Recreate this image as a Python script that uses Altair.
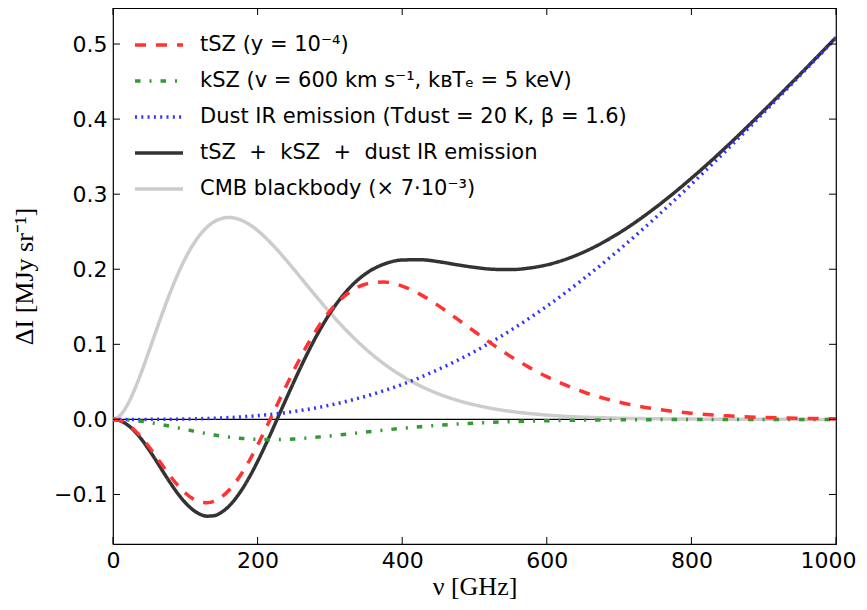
import altair as alt
import pandas as pd

# frequency grid (GHz)
nu = [0, 10, 20, 30, 40, 50, 60, 70, 80, 90, 100, 110, 120, 130, 140, 150, 160,
      170, 180, 190, 200, 210, 220, 230, 240, 250, 260, 270, 280, 290, 300, 325,
      350, 375, 400, 425, 450, 475, 500, 525, 550, 575, 600, 650, 700, 750, 800,
      850, 900, 950, 1000]

tsz = [0.0, -0.0017, -0.0066, -0.0144, -0.0247, -0.0368, -0.0500, -0.0635, -0.0765,
       -0.0883, -0.0981, -0.1055, -0.1099, -0.1111, -0.1091, -0.1035, -0.0948,
       -0.0831, -0.0689, -0.0525, -0.0343, -0.0149, 0.0051, 0.0255, 0.0456, 0.0652,
       0.0838, 0.1012, 0.1173, 0.1316, 0.1443, 0.1680, 0.1803, 0.1829, 0.1776,
       0.1665, 0.1515, 0.1345, 0.1171, 0.0999, 0.0839, 0.0696, 0.0569, 0.0368,
       0.0230, 0.0139, 0.0082, 0.0047, 0.0026, 0.0015, 0.0008]

ksz = [0.0, -0.0002, -0.0007, -0.0015, -0.0026, -0.0040, -0.0056, -0.0074, -0.0093,
       -0.0113, -0.0133, -0.0153, -0.0172, -0.0190, -0.0207, -0.0222, -0.0236,
       -0.0246, -0.0255, -0.0262, -0.0267, -0.0269, -0.0270, -0.0268, -0.0265,
       -0.0261, -0.0255, -0.0247, -0.0239, -0.0230, -0.0221, -0.0195, -0.0168,
       -0.0143, -0.0119, -0.0098, -0.0079, -0.0063, -0.0050, -0.0039, -0.0030,
       -0.0023, -0.0018, -0.0010, -0.0006, -0.0003, -0.0002, -0.0001, 0.0, 0.0, 0.0]

dust = [0.0, 0.0, 0.0, 0.0, 0.0, 0.0, 0.0001, 0.0001, 0.0002, 0.0003, 0.0005, 0.0007,
        0.0009, 0.0012, 0.0015, 0.0019, 0.0024, 0.0029, 0.0035, 0.0042, 0.0050,
        0.0059, 0.0069, 0.0080, 0.0092, 0.0105, 0.0120, 0.0135, 0.0152, 0.0170,
        0.0190, 0.0245, 0.0309, 0.0383, 0.0466, 0.0560, 0.0665, 0.0779, 0.0904,
        0.1040, 0.1186, 0.1342, 0.1507, 0.1866, 0.2259, 0.2683, 0.3132, 0.3600,
        0.4086, 0.4579, 0.5080]

total = [0.0, -0.0019, -0.0073, -0.0159, -0.0273, -0.0408, -0.0555, -0.0708, -0.0856,
         -0.0993, -0.1109, -0.1201, -0.1262, -0.1289, -0.1283, -0.1238, -0.1160,
         -0.1048, -0.0909, -0.0745, -0.0560, -0.0359, -0.0150, 0.0067, 0.0283,
         0.0496, 0.0703, 0.0900, 0.1086, 0.1256, 0.1412, 0.1730, 0.1944, 0.2069,
         0.2123, 0.2127, 0.2101, 0.2061, 0.2025, 0.2000, 0.1995, 0.2015, 0.2058,
         0.2224, 0.2483, 0.2819, 0.3212, 0.3646, 0.4112, 0.4594, 0.5088]

cmb = [0.0, 0.0054, 0.0195, 0.0401, 0.0646, 0.0915, 0.1190, 0.1458, 0.1711, 0.1942,
       0.2144, 0.2316, 0.2455, 0.2560, 0.2634, 0.2675, 0.2690, 0.2677, 0.2643,
       0.2588, 0.2516, 0.2430, 0.2333, 0.2228, 0.2117, 0.2001, 0.1884, 0.1766,
       0.1650, 0.1535, 0.1423, 0.1163, 0.0934, 0.0739, 0.0577, 0.0446, 0.0341,
       0.0258, 0.0194, 0.0144, 0.0107, 0.0079, 0.0057, 0.0030, 0.0016, 0.0008,
       0.0004, 0.0002, 0.0001, 0.0, 0.0]

x_ticks = [0, 200, 400, 600, 800, 1000]
y_ticks = [-0.1, 0.0, 0.1, 0.2, 0.3, 0.4, 0.5]
zero_line = [0.0]

names = [
    "tSZ (y = 10⁻⁴)",
    "kSZ (v = 600 km s⁻¹, kʙTₑ = 5 keV)",
    "Dust IR emission (Tdust = 20 K, β = 1.6)",
    "tSZ\u00a0 +\u00a0 kSZ\u00a0 +\u00a0 dust IR emission",
    "CMB blackbody (× 7·10⁻³)",
]
colors = ["#ff3333", "#339933", "#3333ff", "#333333", "#cccccc"]
dashes = [[11, 10], [5.5, 9, 2, 9], [2, 4.3], [1, 0], [1, 0]]

# drawing order (back to front)
series_by_name = {
    names[4]: cmb,
    names[3]: total,
    names[2]: dust,
    names[1]: ksz,
    names[0]: tsz,
}
rows = []
for name, vals in series_by_name.items():
    for n, v in zip(nu, vals):
        rows.append({"nu": n, "value": v, "series": name})
df = pd.DataFrame(rows)

W, H = 723, 536
xs = alt.Scale(domain=[0, 1000], nice=False, zero=False)
ys = alt.Scale(domain=[-0.166, 0.548], nice=False, zero=False)

x_axis = alt.Axis(
    values=x_ticks, format="d", title="ν [GHz]", titlePadding=2, labelFlush=False,
    labelOffset={"condition": {"test": "datum.value == 1000", "value": -8}, "value": 0},
)
y_axis = alt.Axis(values=y_ticks, format=".1f", title="ΔI [MJy sr⁻¹]", titlePadding=16)

legend = alt.Legend(
    title=None, orient="none", legendX=32, legendY=23, padding=0,
    symbolType="M-2,0H2", symbolSize=576, symbolStrokeWidth=3.5,
    labelFont="DejaVu Sans", labelFontSize=21, labelColor="black",
    labelOffset=27, rowPadding=12, labelLimit=1000,
)

lines = alt.Chart(df).mark_line(strokeWidth=3.5, interpolate="monotone", clip=True).encode(
    x=alt.X("nu:Q", scale=xs, axis=x_axis),
    y=alt.Y("value:Q", scale=ys, axis=y_axis),
    color=alt.Color("series:N", scale=alt.Scale(domain=names, range=colors), legend=legend),
    strokeDash=alt.StrokeDash("series:N", scale=alt.Scale(domain=names, range=dashes), legend=legend),
)

zero = alt.Chart(pd.DataFrame({"z": zero_line})).mark_rule(color="black", strokeWidth=1.3).encode(
    y=alt.Y("z:Q", scale=ys, axis=y_axis)
)

ydf = pd.DataFrame({"t": y_ticks})
xdf = pd.DataFrame({"t": x_ticks})
tick_style = dict(color="black", strokeWidth=1)
left_t = alt.Chart(ydf).mark_rule(**tick_style).encode(
    y=alt.Y("t:Q", scale=ys, axis=y_axis), x=alt.value(0), x2=alt.value(7))
right_t = alt.Chart(ydf).mark_rule(**tick_style).encode(
    y=alt.Y("t:Q", scale=ys, axis=y_axis), x=alt.value(W - 7), x2=alt.value(W))
bottom_t = alt.Chart(xdf).mark_rule(**tick_style).encode(
    x=alt.X("t:Q", scale=xs, axis=x_axis), y=alt.value(H - 7), y2=alt.value(H))
top_t = alt.Chart(xdf).mark_rule(**tick_style).encode(
    x=alt.X("t:Q", scale=xs, axis=x_axis), y=alt.value(0), y2=alt.value(7))

chart = alt.layer(zero, lines, left_t, right_t, bottom_t, top_t).properties(
    width=W, height=H,
    padding={"left": 105, "top": 0, "right": 22, "bottom": 58},
    autosize=alt.AutoSizeParams(type="none"),
    background="white",
).configure_view(
    stroke="black", strokeWidth=1.2
).configure_axis(
    ticks=False, domain=False, grid=False,
    labelFont="DejaVu Sans", labelFontSize=22, labelColor="black", labelPadding=6,
    titleFont="Liberation Serif", titleFontSize=26, titleFontWeight="normal", titleColor="black",
)

chart.save("out.html", embed_options={"renderer": "svg", "actions": False})
